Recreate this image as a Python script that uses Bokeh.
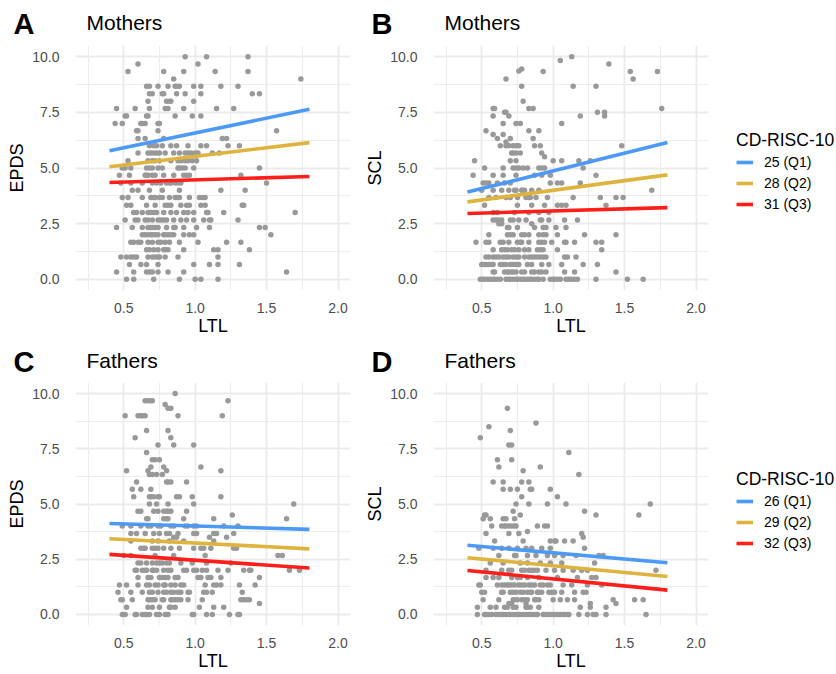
import math
from bokeh.plotting import figure
from bokeh.layouts import column, row
from bokeh.models import (Range1d, FixedTicker, PrintfTickFormatter, Label,
                          Legend, LegendItem, ColumnDataSource, Spacer)
from bokeh.embed import file_html
from bokeh.resources import INLINE

FONT = "Liberation Sans"

# ---------------- data ----------------
x_major = [0.5, 1.0, 1.5, 2.0]
x_minor = [0.25, 0.75, 1.25, 1.75]
y_major = [0.0, 2.5, 5.0, 7.5, 10.0]
y_minor = [1.25, 3.75, 6.25, 8.75]

legend_title = "CD-RISC-10"
mothers_groups = ["25 (Q1)", "28 (Q2)", "31 (Q3)"]
fathers_groups = ["26 (Q1)", "29 (Q2)", "32 (Q3)"]
group_colors = ["#4C9AF6", "#DEB43E", "#FF1F1A"]

fit_ltl = [0.4, 1.8]
# fitted lines: value at LTL=0.4 and LTL=1.8 for Q1, Q2, Q3
fit_A = [[5.77, 7.64], [5.06, 6.14], [4.35, 4.62]]
fit_B = [[3.92, 6.14], [3.48, 4.69], [2.96, 3.22]]
fit_C = [[4.12, 3.85], [3.43, 2.97], [2.72, 2.10]]
fit_D = [[3.13, 2.34], [2.57, 1.72], [1.99, 1.10]]

# points: (outcome value, [LTL values])
mothers_epds = [
    (10.0, [0.93, 1.08, 1.37]),
    (9.67, [0.60, 1.02]),
    (9.33, [0.53, 0.78, 0.92, 1.14, 1.37]),
    (9.0, [0.85, 1.74]),
    (8.67, [0.66, 0.68, 0.74, 0.81, 0.86, 0.87, 0.89, 0.99, 1.04, 1.18, 1.30]),
    (8.33, [0.68, 0.70, 0.77, 0.78, 0.87, 0.93, 1.04, 1.40, 1.45]),
    (8.0, [0.67, 0.80, 0.82, 0.83, 0.99]),
    (7.67, [0.45, 0.58, 0.68, 0.79, 0.81, 0.92, 1.15, 1.27]),
    (7.33, [0.51, 0.52, 0.66, 0.67, 0.86, 0.98, 1.04]),
    (7.0, [0.44, 0.49, 0.62, 0.63, 0.65, 0.74, 0.75]),
    (6.67, [0.59, 0.60, 0.74, 1.57]),
    (6.33, [0.60, 0.65, 0.78, 1.19, 1.22]),
    (6.0, [0.68, 0.71, 0.73, 0.77, 0.83, 0.87, 0.95, 1.04, 1.08, 1.23, 1.31]),
    (5.67, [0.60, 0.67, 0.69, 0.71, 0.73, 0.75, 0.79, 0.85, 0.89, 0.93, 0.95, 0.97, 1.00, 1.02, 1.12, 1.17]),
    (5.33, [0.53, 0.67, 0.70, 0.72, 0.75, 0.83, 0.88, 0.90, 0.93, 0.95, 0.98, 1.01]),
    (5.0, [0.49, 0.51, 0.55, 0.66, 0.68, 0.70, 0.74, 0.77, 0.88, 0.89, 0.91, 0.93, 0.99, 1.45]),
    (4.67, [0.47, 0.54, 0.65, 0.66, 0.67, 0.70, 0.72, 0.78, 0.85, 0.92, 0.94, 0.96, 1.32]),
    (4.33, [0.48, 0.55, 0.63, 0.70, 0.73, 0.76, 0.80, 0.82, 0.83, 0.86, 0.88, 0.90, 1.50]),
    (4.0, [0.56, 0.60, 0.68, 0.77, 0.89, 1.18, 1.35]),
    (3.67, [0.49, 0.53, 0.63, 0.69, 0.71, 0.72, 0.75, 0.77, 0.82, 0.86, 0.88, 0.89, 0.96, 1.03, 1.05, 1.07]),
    (3.33, [0.52, 0.55, 0.66, 0.72, 0.79, 0.81, 0.83, 0.90, 0.94, 0.96, 1.04, 1.07, 1.33, 1.34]),
    (3.0, [0.57, 0.59, 0.63, 0.67, 0.69, 0.71, 0.73, 0.78, 0.83, 0.87, 0.92, 0.95, 0.99, 1.08, 1.09, 1.20, 1.70]),
    (2.67, [0.51, 0.58, 0.60, 0.65, 0.67, 0.70, 0.74, 0.76, 0.78, 0.80, 0.85, 0.90, 0.94, 0.99, 1.06, 1.10, 1.11, 1.30]),
    (2.33, [0.45, 0.56, 0.63, 0.67, 0.69, 0.70, 0.72, 0.74, 0.80, 0.85, 0.86, 0.92, 1.01, 1.10, 1.45, 1.49]),
    (2.0, [0.63, 0.65, 0.67, 0.69, 0.70, 0.72, 0.74, 0.78, 0.79, 0.81, 0.83, 0.85, 0.92, 0.96, 0.99, 1.53]),
    (1.67, [0.55, 0.57, 0.60, 0.62, 0.67, 0.70, 0.74, 0.76, 0.79, 0.82, 0.89, 1.02, 1.22, 1.32]),
    (1.33, [0.66, 0.68, 0.71, 0.74, 0.78, 0.79, 0.81, 0.92, 1.13, 1.16, 1.38]),
    (1.0, [0.48, 0.52, 0.55, 0.57, 0.59, 0.67, 0.70, 0.72, 0.74, 0.75, 0.79, 0.88, 1.16]),
    (0.67, [0.54, 0.62, 0.66, 0.74, 0.99, 1.10, 1.16, 1.31]),
    (0.33, [0.45, 0.57, 0.66, 0.68, 0.70, 0.74, 0.81, 0.92, 1.64]),
    (0.0, [0.52, 0.57, 0.71, 0.89, 1.00, 1.04, 1.16]),
]

mothers_scl = [
    (10.0, [1.13]),
    (9.83, [1.05]),
    (9.67, [1.39]),
    (9.44, [0.78]),
    (9.35, [0.76]),
    (9.33, [0.93, 1.54, 1.73]),
    (9.0, [0.67, 1.56]),
    (8.67, [0.78, 1.14, 1.30]),
    (8.0, [0.79]),
    (7.67, [0.58, 0.59, 0.83, 0.86, 1.76]),
    (7.5, [0.66, 0.67, 1.31, 1.36]),
    (7.33, [0.58, 0.69, 1.19, 1.36]),
    (7.0, [0.65, 0.74, 0.77, 1.06]),
    (6.67, [0.53, 0.83, 0.90]),
    (6.5, [0.58, 0.65]),
    (6.33, [0.61, 0.70, 0.86]),
    (6.17, [0.67]),
    (6.0, [0.63, 0.67, 0.69, 0.72, 0.74, 0.76, 0.87, 0.91, 1.48]),
    (5.67, [0.71, 0.72, 0.74, 0.77, 0.92]),
    (5.5, [0.94]),
    (5.33, [0.45, 0.70, 0.74, 1.00, 1.06, 1.18, 1.26]),
    (5.0, [0.52, 0.65, 0.72, 0.74, 0.76, 0.79, 0.82, 0.90, 0.92, 0.94, 1.21]),
    (4.67, [0.44, 0.58, 0.65, 0.74, 0.87, 0.92, 0.98, 1.30]),
    (4.33, [0.51, 0.53, 0.55, 0.61, 0.66, 0.70, 0.98, 1.03, 1.06, 1.19]),
    (4.0, [0.50, 0.58, 0.64, 0.69, 0.73, 0.74, 0.78, 0.79, 0.80, 0.85, 0.90, 1.69]),
    (3.67, [0.55, 0.60, 0.67, 0.70, 0.75, 0.81, 0.83, 0.84, 0.88, 0.96, 1.14, 1.33, 1.44, 1.49]),
    (3.33, [0.52, 0.75, 0.85, 0.94, 1.03, 1.06, 1.09, 1.37]),
    (3.0, [0.58, 0.61, 0.73, 0.83, 0.90, 0.97]),
    (2.67, [0.58, 0.60, 0.62, 0.64, 0.70, 0.72, 0.76, 0.81, 0.91, 0.92, 0.97, 1.08, 1.17]),
    (2.5, [0.62, 0.64, 0.85]),
    (2.33, [0.68, 0.69, 0.75, 0.87, 0.93, 0.95, 1.02, 1.09]),
    (2.0, [0.55, 0.68, 0.70, 0.72, 0.78, 0.80, 0.83, 0.90, 0.93, 0.95, 1.03, 1.22, 1.44]),
    (1.67, [0.46, 0.53, 0.55, 0.63, 0.65, 0.69, 0.75, 0.77, 0.78, 0.83, 0.90, 0.92, 0.94, 0.99, 1.08, 1.09, 1.15, 1.30, 1.34]),
    (1.33, [0.58, 0.64, 0.66, 0.68, 0.71, 0.73, 0.76, 0.80, 0.83, 0.89, 0.91, 0.93, 1.03, 1.34]),
    (1.0, [0.53, 0.55, 0.58, 0.60, 0.62, 0.65, 0.67, 0.69, 0.72, 0.74, 0.76, 0.80, 0.83, 0.85, 0.87, 0.89, 0.91, 0.93, 0.95, 1.08, 1.10, 1.16]),
    (0.67, [0.50, 0.52, 0.53, 0.55, 0.57, 0.58, 0.63, 0.65, 0.67, 0.70, 0.72, 0.74, 0.76, 0.82, 0.85, 0.92, 0.97, 1.06, 1.21, 1.31]),
    (0.33, [0.58, 0.59, 0.66, 0.68, 0.69, 0.71, 0.72, 0.74, 0.78, 0.80, 0.85, 0.87, 0.90, 0.92, 0.95, 1.08, 1.15, 1.44]),
    (0.0, [0.49, 0.51, 0.52, 0.54, 0.56, 0.58, 0.59, 0.61, 0.63, 0.67, 0.69, 0.70, 0.72, 0.74, 0.75, 0.77, 0.79, 0.80,
           0.82, 0.84, 0.85, 0.87, 0.89, 0.90, 0.93, 0.98, 1.00, 1.01, 1.03, 1.05, 1.09, 1.11, 1.13, 1.15, 1.17, 1.30,
           1.52, 1.63]),
]

fathers_epds = [
    (10.0, [0.86]),
    (9.67, [0.65, 0.67, 0.69, 0.70, 1.23]),
    (9.5, [0.79]),
    (9.33, [0.81, 0.83]),
    (9.0, [0.51, 0.60, 0.62, 0.63, 0.65, 0.88, 1.19]),
    (8.33, [0.66, 0.81]),
    (8.0, [0.58, 0.83]),
    (7.67, [0.74, 0.85, 0.99]),
    (7.33, [0.66]),
    (7.0, [0.70, 0.72, 0.75]),
    (6.67, [0.69, 0.78, 1.04]),
    (6.5, [0.52, 0.67, 0.80, 1.18]),
    (6.33, [0.68, 0.70, 0.73, 0.77]),
    (6.0, [0.59, 0.80, 0.81, 0.83, 0.94]),
    (5.67, [0.56, 0.62, 0.69]),
    (5.33, [0.57, 0.68, 0.69, 0.71, 0.74, 0.75, 0.87, 0.89, 0.98, 1.18]),
    (5.0, [0.68, 0.73, 0.81, 0.99, 1.69]),
    (4.67, [0.60, 0.62, 0.71, 0.74, 0.78, 0.80, 0.81, 0.83, 0.94]),
    (4.5, [1.26]),
    (4.33, [0.66, 0.67, 0.78, 0.80, 0.81, 0.92, 1.13, 1.64]),
    (4.0, [0.49, 0.55, 0.62, 0.67, 0.69, 0.74, 0.76, 0.83, 0.85, 0.93, 0.95, 0.99, 1.01, 1.20, 1.30]),
    (3.67, [0.55, 0.59, 0.65, 0.71, 0.75, 0.80, 0.82, 0.88, 0.99, 1.01, 1.13, 1.15, 1.27]),
    (3.5, [0.85, 0.87, 1.10, 1.22]),
    (3.33, [0.55, 0.70, 0.74, 0.82, 0.92, 1.13]),
    (3.0, [0.62, 0.64, 0.65, 0.70, 0.72, 0.74, 0.78, 0.83, 0.89, 0.99, 1.04, 1.06, 1.11, 1.27, 1.29]),
    (2.67, [0.50, 0.55, 0.72, 0.85, 1.07, 1.58, 1.61]),
    (2.33, [0.60, 0.62, 0.66, 0.70, 0.73, 0.75, 0.77, 0.80, 0.82, 0.90, 0.98, 1.08, 1.25]),
    (2.0, [0.58, 0.59, 0.63, 0.65, 0.66, 0.70, 0.71, 0.73, 0.78, 0.81, 0.83, 0.92, 0.94, 0.99, 1.01, 1.05, 1.08,
           1.16, 1.23, 1.34, 1.38, 1.39, 1.66, 1.73]),
    (1.67, [0.60, 0.67, 0.69, 0.75, 0.77, 0.79, 0.81, 0.86, 0.88, 1.02, 1.04, 1.09, 1.11, 1.18, 1.45]),
    (1.33, [0.47, 0.52, 0.60, 0.66, 0.68, 0.72, 0.74, 0.78, 0.79, 0.83, 0.86, 0.90, 0.92, 1.07, 1.13, 1.15, 1.18,
            1.31, 1.42]),
    (1.0, [0.46, 0.55, 0.63, 0.68, 0.70, 0.74, 0.78, 0.80, 0.83, 0.85, 0.88, 0.90, 0.95, 0.96, 1.06, 1.08, 1.12, 1.33]),
    (0.67, [0.48, 0.49, 0.56, 0.67, 0.68, 0.70, 0.72, 0.77, 0.78, 0.83, 0.84, 0.86, 0.88, 0.90, 0.95, 1.05, 1.32,
            1.34, 1.36, 1.38]),
    (0.5, [1.45]),
    (0.33, [0.52, 0.67, 0.70, 0.75, 0.82, 0.83, 0.86, 1.03, 1.13, 1.20]),
    (0.0, [0.49, 0.51, 0.58, 0.59, 0.63, 0.65, 0.66, 0.68, 0.73, 0.75, 0.79, 0.81, 0.98, 0.99, 1.08, 1.12, 1.24,
           1.30, 1.31]),
]

fathers_scl = [
    (9.33, [0.68]),
    (8.67, [0.88]),
    (8.5, [0.55]),
    (8.33, [0.70]),
    (8.0, [0.49]),
    (7.67, [0.69, 0.71]),
    (7.33, [1.11]),
    (7.0, [0.61, 0.71]),
    (6.67, [0.62, 0.91]),
    (6.5, [0.79]),
    (6.33, [1.18]),
    (6.0, [0.58, 0.65, 0.78, 0.83]),
    (5.67, [0.65, 0.70, 0.75, 0.84, 0.85, 0.98]),
    (5.33, [0.78, 1.03]),
    (5.0, [0.74, 0.83, 0.96, 1.09, 1.68]),
    (4.67, [0.72, 1.22]),
    (4.5, [0.52, 0.53, 0.77, 1.30, 1.60]),
    (4.33, [0.51, 0.56, 0.65, 0.67, 0.73]),
    (4.0, [0.57, 0.64, 0.66, 0.67, 0.69, 0.71, 0.73, 0.74, 0.89, 0.94, 0.96]),
    (3.75, [0.82]),
    (3.67, [0.53, 0.69, 0.76, 1.20]),
    (3.5, [1.21]),
    (3.33, [0.59, 0.79, 0.98, 1.01, 1.02, 1.08, 1.14]),
    (3.0, [0.48, 0.58, 0.64, 0.69, 0.75, 0.81, 0.85, 0.92, 0.98, 1.22]),
    (2.67, [0.62, 0.73, 0.74, 0.82, 0.88, 0.96, 1.01, 1.07, 1.16, 1.32, 1.35]),
    (2.33, [0.56, 0.65, 0.77, 0.82, 0.91, 0.98, 1.06, 1.29]),
    (2.0, [0.53, 0.64, 0.69, 0.71, 0.78, 0.80, 0.83, 0.85, 0.87, 0.89, 0.95, 1.01, 1.07, 1.14, 1.20, 1.24, 1.72]),
    (1.67, [0.53, 0.58, 0.62, 0.71, 0.75, 0.77, 0.82, 0.90, 1.03, 1.17, 1.27, 1.30]),
    (1.33, [0.48, 0.49, 0.61, 0.64, 0.66, 0.68, 0.69, 0.71, 0.73, 0.76, 0.78, 0.80, 0.83, 0.85, 0.87, 0.91, 0.93,
            0.96, 0.98, 1.07, 1.13, 1.24, 1.34]),
    (1.0, [0.50, 0.52, 0.64, 0.65, 0.70, 0.72, 0.74, 0.77, 0.79, 0.82, 0.84, 0.85, 0.89, 0.90, 0.92, 0.97, 0.99,
           1.01, 1.06, 1.15, 1.21, 1.23]),
    (0.67, [0.51, 0.62, 0.72, 0.73, 0.75, 0.78, 0.80, 0.82, 0.87, 0.88, 0.90, 1.00, 1.05, 1.10, 1.15, 1.42, 1.57, 1.63]),
    (0.5, [0.69, 0.71, 0.81, 1.26, 1.44]),
    (0.33, [0.47, 0.56, 0.60, 0.66, 0.68, 0.72, 0.74, 0.81, 0.82, 0.84, 0.90, 1.19, 1.26, 1.37]),
    (0.0, [0.47, 0.52, 0.53, 0.55, 0.57, 0.60, 0.62, 0.64, 0.65, 0.67, 0.69, 0.70, 0.72, 0.74, 0.76, 0.77, 0.79,
           0.81, 0.83, 0.84, 0.86, 0.88, 0.89, 0.93, 0.94, 0.96, 0.98, 1.00, 1.01, 1.03, 1.05, 1.07, 1.08, 1.10,
           1.11, 1.18, 1.24, 1.28, 1.30, 1.37, 1.65]),
]


def flatten(rows):
    xs, ys = [], []
    for yv, xlist in rows:
        for xv in xlist:
            xs.append(xv)
            ys.append(yv)
    return xs, ys


def blank(width, height):
    """A figure whose frame fills the whole canvas (used for headers and legends)."""
    f = figure(width=width, height=height, output_backend="svg", toolbar_location=None,
               title=None, x_axis_type=None, y_axis_type=None,
               x_range=Range1d(5, 6), y_range=Range1d(0, 1),
               min_border=0, min_border_left=0, min_border_right=0,
               min_border_top=0, min_border_bottom=0)
    f.outline_line_color = None
    f.xgrid.visible = False
    f.ygrid.visible = False
    f.background_fill_color = "white"
    f.border_fill_color = "white"
    return f


def header(width, height, entries):
    h = blank(width, height)
    for (txt, x, y, size, style) in entries:
        h.add_layout(Label(x=x, y=y, x_units="screen", y_units="screen", text=txt,
                           text_font=FONT, text_font_size=size, text_font_style=style,
                           text_color="black", text_align="left", text_baseline="alphabetic"))
    return h


def legend_box(width, height, groups, fits, legend_y):
    f = blank(width, height)
    items = []
    for (vals, col, name) in zip(fits, group_colors, groups):
        r = f.line(fit_ltl, vals, line_color=col, line_width=3.6)
        items.append(LegendItem(label=name, renderers=[r]))
    leg = Legend(items=items, location=(22, legend_y), title=legend_title,
                 title_text_font=FONT, title_text_font_size="17.5px", title_text_font_style="normal",
                 title_text_color="black", title_standoff=1,
                 label_text_font=FONT, label_text_font_size="14px", label_text_color="black",
                 glyph_width=17, glyph_height=20, label_height=20, label_standoff=11,
                 spacing=1, padding=0, margin=0,
                 background_fill_alpha=0, border_line_color=None)
    f.add_layout(leg)
    return f


def make_panel(ylabel, rows, fits, width, height, b_left, b_right, b_bottom):
    p = figure(width=width, height=height, output_backend="svg", toolbar_location=None,
               title=None,
               x_range=Range1d(0.1625, 2.0875), y_range=Range1d(-0.5, 10.5),
               min_border_left=b_left, min_border_right=b_right,
               min_border_top=0, min_border_bottom=b_bottom,
               x_axis_label="LTL", y_axis_label=ylabel)
    p.outline_line_color = None
    p.background_fill_color = "white"
    p.border_fill_color = "white"

    xt = FixedTicker(ticks=x_major, minor_ticks=x_minor)
    yt = FixedTicker(ticks=y_major, minor_ticks=y_minor)
    p.xaxis[0].ticker = xt
    p.yaxis[0].ticker = yt
    p.xgrid[0].ticker = xt
    p.ygrid[0].ticker = yt
    for ax in (p.xaxis[0], p.yaxis[0]):
        ax.axis_line_color = None
        ax.major_tick_line_color = None
        ax.minor_tick_line_color = None
        ax.major_label_text_font = FONT
        ax.major_label_text_font_size = "14px"
        ax.major_label_text_color = "#4D4D4D"
        ax.formatter = PrintfTickFormatter(format="%.1f")
        ax.axis_label_text_font = FONT
        ax.axis_label_text_font_size = "18px"
        ax.axis_label_text_font_style = "normal"
        ax.axis_label_text_color = "black"
    p.xaxis[0].major_label_standoff = 6
    p.xaxis[0].axis_label_standoff = 0
    p.yaxis[0].major_label_standoff = 10
    p.yaxis[0].axis_label_standoff = 2
    for g in (p.xgrid[0], p.ygrid[0]):
        g.grid_line_color = "#EBEBEB"
        g.grid_line_width = 1.8
        g.minor_grid_line_color = "#EDEDED"
        g.minor_grid_line_width = 1.2

    xs, ys = flatten(rows)
    src = ColumnDataSource(dict(ltl=xs, score=ys))
    p.scatter("ltl", "score", source=src, size=5.5, fill_color="#999999", line_color=None)

    for (vals, col) in zip(fits, group_colors):
        p.line(fit_ltl, vals, line_color=col, line_width=3.6)
    return p


PAD, W_A, W_B, W_L = 4, 358, 352, 121   # 4 + 358 + 352 + 121 = 835
H_HEAD1, H_ROW1 = 45, 293               # frame 249 + bottom 44
H_HEAD2, H_ROW2 = 44, 291               # frame 249 + bottom 42
TOTAL_W = PAD + W_A + W_B + W_L

head1 = header(TOTAL_W, H_HEAD1, [
    ("A", 13, 21.7, "29px", "bold"), ("Mothers", 86, 23, "21px", "normal"),
    ("B", 371, 21.7, "29px", "bold"), ("Mothers", 444, 23, "21px", "normal"),
])
head2 = header(TOTAL_W, H_HEAD2, [
    ("C", 13, 20.7, "29px", "bold"), ("Fathers", 86, 21.7, "21px", "normal"),
    ("D", 371, 20.7, "29px", "bold"), ("Fathers", 444, 21.7, "21px", "normal"),
])

pA = make_panel("EPDS", mothers_epds, fit_A, W_A, H_ROW1, 64, 12, 44)
pB = make_panel("SCL", mothers_scl, fit_B, W_B, H_ROW1, 64, 6, 44)
legA = legend_box(W_L, H_ROW1, mothers_groups, fit_B, 76)
pC = make_panel("EPDS", fathers_epds, fit_C, W_A, H_ROW2, 64, 12, 42)
pD = make_panel("SCL", fathers_scl, fit_D, W_B, H_ROW2, 64, 6, 42)
legC = legend_box(W_L, H_ROW2, fathers_groups, fit_D, 72)

layout = column(head1,
                row(Spacer(width=PAD, height=H_ROW1), pA, pB, legA),
                head2,
                row(Spacer(width=PAD, height=H_ROW2), pC, pD, legC))
open("out.html", "w").write(file_html(layout, INLINE))
